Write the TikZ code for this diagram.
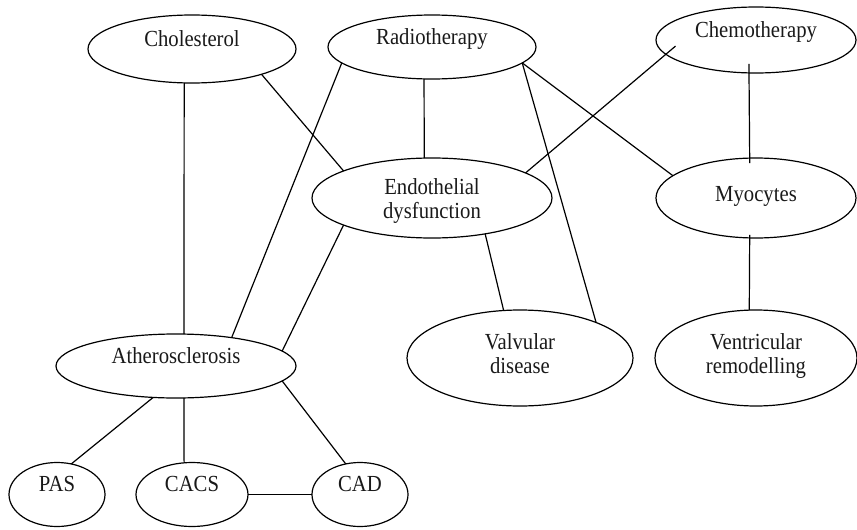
\documentclass[tikz,border=0pt]{standalone}
\usepackage{fontspec}
\setmainfont{Liberation Serif}
\newfontfamily\labelfont[FakeStretch=0.9]{Liberation Serif}
\usetikzlibrary{shapes.geometric}

\begin{document}
\begin{tikzpicture}[
		x=1pt, y=-1pt,
		place/.style={ellipse,draw=black,line width=1.2pt,
		inner sep=0pt,outer sep=0pt,align=center,
		font=\labelfont\fontsize{23}{24}\selectfont,text=black!90},
		oneline/.style={text height=10pt,text depth=16pt},
		twoline/.style={text height=#1,text depth=4pt},
		link/.style={draw=black, line width=1.2pt}
		]
		\useasboundingbox (0,0) rectangle (857,530);
		% top row
		\node[place, oneline, minimum width=208pt, minimum height=68pt] (chol) at (192,49) {Cholesterol};
		\node[place, oneline, minimum width=208pt, minimum height=64pt] (radio) at (432,47) {Radiotherapy};
		\node[place, oneline, minimum width=200pt, minimum height=66pt] (chemo) at (756,40) {Chemotherapy};
		% middle
		\node[place, twoline=45pt, minimum width=240pt, minimum height=80pt] (endo) at (432,198) {Endothelial\\dysfunction};
		\node[place, text height=10pt, text depth=4pt, minimum width=200pt, minimum height=80pt] (myo) at (756,198) {Myocytes};
		\node[place, twoline=35pt, minimum width=226pt, minimum height=96pt] (valv) at (520,358) {Valvular\\disease};
		\node[place, twoline=35pt, minimum width=202pt, minimum height=96pt] (vent) at (756,358) {Ventricular\\remodelling};
		\node[place, oneline, minimum width=240pt, minimum height=64pt] (ather) at (176,366) {Atherosclerosis};
		% bottom row
		\node[place, oneline, minimum width=96pt, minimum height=64pt] (pas) at (57,494.5) {PAS};
		\node[place, oneline, minimum width=112pt, minimum height=64pt] (cacs) at (192,494.5) {CACS};
		\node[place, oneline, minimum width=96pt, minimum height=64pt] (cad) at (360,494.5) {CAD};

		\draw[link] (chol.-103.2) -- (ather.76);
		\draw[link] (chol.-20.6) -- (endo.163.3);
		\draw[link] (radio.-170.4) -- (ather.27.6);
		\draw[link] (radio.-104) -- (endo.101.3);
		\draw[link] (endo.-163.4) -- (ather.8.75);
		\draw[link] (radio.-10.25) -- (myo.165.5);
		\draw[link] (radio.-10.75) -- (valv.25.35);
		\draw[link, shorten >=-12.7pt] (endo.15.5) -- (chemo.-171.75);
		\draw[link, shorten <=-9pt, shorten >=-5pt] (chemo.-102) -- (myo.99.93);
		\draw[link] (endo.-34.9) -- (valv.109.5);
		\draw[link, shorten <=-3pt] (myo.-99.93) -- (vent.98.3);
		\draw[link] (ather.-126.9) -- (pas.65);
		\draw[link] (ather.-76) -- (cacs.104);
		\draw[link] (ather.-8.66) -- (cad.115.9);
		\draw[link] (cacs.east) -- (cad.west);
	\end{tikzpicture}
\end{document}
